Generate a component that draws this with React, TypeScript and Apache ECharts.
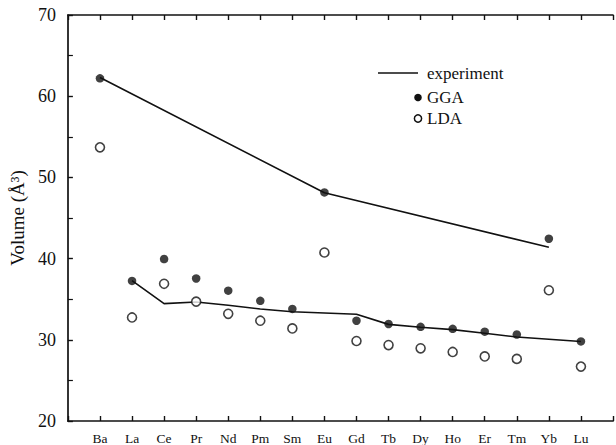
import React, { useEffect, useRef } from "react";
import * as echarts from "echarts";

// Lanthanide series (plus Ba) along the x axis
const elements = ["Ba", "La", "Ce", "Pr", "Nd", "Pm", "Sm", "Eu", "Gd", "Tb", "Dy", "Ho", "Er", "Tm", "Yb", "Lu"];

// Calculated equilibrium volumes (Å^3)
const gga = [62.2, 37.25, 39.95, 37.55, 36.05, 34.8, 33.8, 48.15, 32.35, 31.95, 31.6, 31.35, 31.0, 30.65, 42.45, 29.8];
const lda = [53.7, 32.75, 36.9, 34.7, 33.2, 32.35, 31.4, 40.75, 29.85, 29.35, 28.95, 28.5, 27.95, 27.65, 36.1, 26.7];

// Experimental volumes: divalent branch (Ba, Eu, Yb) and trivalent branch (La..Lu)
const expDivalent: (number | null)[] = [62.3, null, null, null, null, null, null, 48.1, null, null, null, null, null, null, 41.4, null];
const expTrivalent: (number | null)[] = [null, 37.3, 34.45, 34.65, 34.25, 33.8, 33.45, null, 33.15, 31.9, 31.55, 31.25, 30.8, 30.35, null, 29.8];

const yMin = 20;
const yMax = 70;
const yStep = 10;

const FONT = "'Liberation Serif', 'Times New Roman', serif";
const INK = "#111";

const toPoints = (vals: (number | null)[]) => vals.map((v, i) => [i, v]);

export default function App() {
  const ref = useRef<HTMLDivElement>(null);

  useEffect(() => {
    if (!ref.current) return;
    const chart = echarts.init(ref.current, undefined, { renderer: "svg" });
    const xCommon = {
      type: "value" as const,
      min: -1,
      max: elements.length,
      interval: 1,
      axisLine: { show: true, onZero: false, lineStyle: { color: INK, width: 1.7 } },
      axisTick: { show: true, inside: true, length: 5, lineStyle: { color: INK, width: 1.4 } },
      splitLine: { show: false },
    };
    chart.setOption({
      animation: false,
      backgroundColor: "#fff",
      textStyle: { fontFamily: FONT },
      grid: { left: 66, top: 15, height: 408, width: 32.8 * (elements.length + 1) },
      xAxis: [
        {
          ...xCommon,
          position: "bottom",
          axisLabel: {
            show: true,
            margin: 10,
            fontFamily: FONT,
            fontSize: 13.5,
            color: INK,
            formatter: (v: number) => elements[v] ?? "",
          },
        },
        {
          ...xCommon,
          position: "top",
          axisLabel: { show: false },
        },
      ],
      yAxis: {
        type: "value",
        min: yMin,
        max: yMax,
        interval: yStep,
        name: "Volume (Å³)",
        nameLocation: "middle",
        nameGap: 40,
        nameTextStyle: { fontFamily: FONT, fontSize: 19, color: INK },
        axisLine: { show: true, onZero: false, lineStyle: { color: INK, width: 1.7 } },
        axisTick: { show: true, inside: true, length: 5, lineStyle: { color: INK, width: 1.4 } },
        minorTick: { show: true, splitNumber: 2, length: 5, lineStyle: { color: INK, width: 1.2 } },
        splitLine: { show: false },
        axisLabel: { fontFamily: FONT, fontSize: 18, color: INK, margin: 12 },
      },
      series: [
        {
          name: "experiment",
          type: "line",
          data: toPoints(expDivalent),
          connectNulls: true,
          showSymbol: false,
          symbol: "none",
          lineStyle: { color: INK, width: 1.6 },
          z: 2,
        },
        {
          name: "experiment",
          type: "line",
          data: toPoints(expTrivalent),
          connectNulls: true,
          showSymbol: false,
          symbol: "none",
          lineStyle: { color: INK, width: 1.6 },
          z: 2,
        },
        {
          name: "GGA",
          type: "scatter",
          data: toPoints(gga),
          symbol: "circle",
          symbolSize: 8.5,
          itemStyle: { color: INK },
          z: 3,
        },
        {
          name: "LDA",
          type: "scatter",
          data: toPoints(lda),
          symbol: "circle",
          symbolSize: 9,
          itemStyle: { color: "#fff", borderColor: INK, borderWidth: 1.6 },
          z: 4,
        },
      ],
      graphic: [
        {
          type: "group",
          x: 378,
          y: 62,
          children: [
            { type: "line", shape: { x1: 0, y1: 11, x2: 40, y2: 11 }, style: { stroke: INK, lineWidth: 1.6 } },
            { type: "text", x: 49, y: 11, style: { text: "experiment", fontFamily: FONT, fontSize: 17, fill: INK, verticalAlign: "middle" } },
            { type: "circle", shape: { cx: 40, cy: 35.5, r: 3.8 }, style: { fill: INK } },
            { type: "text", x: 49, y: 35.5, style: { text: "GGA", fontFamily: FONT, fontSize: 17, fill: INK, verticalAlign: "middle" } },
            { type: "circle", shape: { cx: 40, cy: 56.5, r: 3.6 }, style: { fill: "#fff", stroke: INK, lineWidth: 1.5 } },
            { type: "text", x: 49, y: 56.5, style: { text: "LDA", fontFamily: FONT, fontSize: 17, fill: INK, verticalAlign: "middle" } },
          ],
        },
      ],
    });
    return () => chart.dispose();
  }, []);

  return <div ref={ref} style={{ position: "fixed", left: 0, top: 0, width: 616, height: 445 }} />;
}
